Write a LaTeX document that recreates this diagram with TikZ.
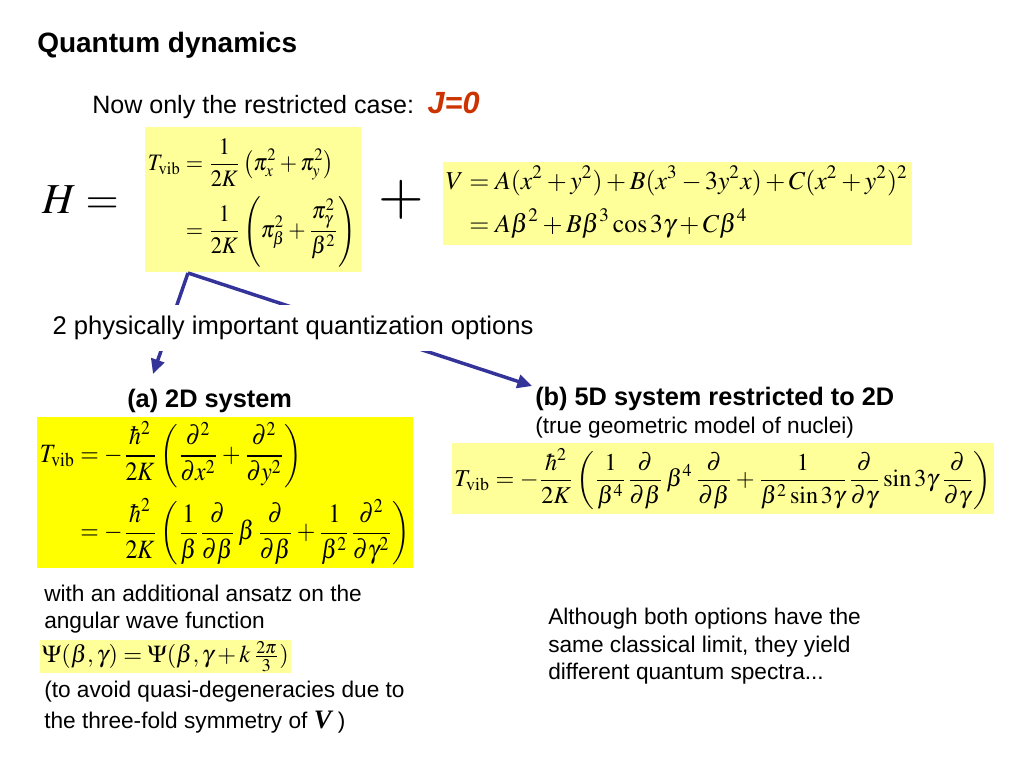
\documentclass[tikz,border=0pt]{standalone}
\usepackage{amsmath}
\usepackage{mathptmx}
\usepackage[no-math]{fontspec}
\setmainfont{Liberation Sans}
\newfontfamily\timesfont{Liberation Serif}
\usepackage{graphicx}
\usetikzlibrary{arrows.meta}
\definecolor{paleyellow}{RGB}{255,255,153}
\definecolor{brightyellow}{RGB}{255,255,0}
\definecolor{arrowblue}{RGB}{51,51,153}
\definecolor{jred}{RGB}{204,51,0}
\tikzset{
  eqbox/.style={inner sep=0pt, outer sep=0pt},
  eqtext/.style={inner sep=0pt, outer sep=0pt},
  bodytext/.style={anchor=base west, inner sep=0pt, font=\fontsize{17}{20}\selectfont},
  headtext/.style={anchor=base west, inner sep=0pt, font=\bfseries\fontsize{19}{23}\selectfont},
  flow/.style={draw=arrowblue, line width=2.6pt, -{Triangle[length=11pt,width=10pt]}},
}
\begin{document}
\begin{tikzpicture}[x=0.75pt,y=-0.75pt]
\useasboundingbox (0,0) rectangle (1024,768);
\fill[white] (0,0) rectangle (1024,768);

% title
\node[anchor=base west, inner sep=0pt, font=\bfseries\fontsize{21}{25}\selectfont] (title) at (37,52) {Quantum dynamics};
\node[anchor=base west, inner sep=0pt, font=\fontsize{18.8}{23}\selectfont] (case) at (92,113)
  {Now only the restricted case:\, {\color{jred}\bfseries\itshape\fontsize{23}{26}\selectfont J=0}};

% H = T + V
\node[anchor=base west, inner sep=0pt] (H) at (42,213) {\fontsize{32}{36}\selectfont$H=$};
\node[eqbox, fill=paleyellow, minimum width=162pt, minimum height=108.75pt] (tbox) at (253,199.5) {};
\node[eqtext] (teq) at (252,203)
  {\resizebox*{156pt}{96pt}{$\displaystyle\begin{aligned}
    T_{\mathrm{vib}} &= \frac{1}{2K}\left(\pi_x^2+\pi_y^2\right)\\
    &= \frac{1}{2K}\left(\pi_\beta^2+\frac{\pi_\gamma^2}{\beta^2}\right)
  \end{aligned}$}};
\node[inner sep=0pt] (plus) at (401,200) {\fontsize{44}{44}\selectfont$+$};
\node[eqbox, fill=paleyellow, minimum width=351.75pt, minimum height=62.25pt] (vbox) at (677.5,203.5) {};
\node[eqtext] (veq) at (677,204)
  {\resizebox{346.5pt}{!}{$\displaystyle\begin{aligned}
    V &= A(x^2+y^2)+B(x^3-3y^2x)+C(x^2+y^2)^2\\
    &= A\beta^2+B\beta^3\cos 3\gamma+C\beta^4
  \end{aligned}$}};

% connectors
\coordinate (split) at (188,273);
\coordinate (tipA) at (153,374);
\coordinate (tipB) at (532,386);
\draw[flow] (split) -- (tipA);
\draw[flow] (split) -- (tipB);
\node[fill=white, inner xsep=4pt, inner ysep=0pt, minimum height=34pt, font=\fontsize{19.2}{23}\selectfont] (opts) at (293,328)
  {2 physically important quantization options};

% (a)
\node[headtext] (la) at (127,407) {(a) 2D system};
\node[eqbox, fill=brightyellow, minimum width=282pt, minimum height=113.25pt] (abox) at (225,492.5) {};
\node[eqtext] (aeq) at (225,493)
  {\resizebox*{277.5pt}{108pt}{$\displaystyle\begin{aligned}
    T_{\mathrm{vib}} &= -\frac{\hbar^2}{2K}\left(\frac{\partial^2}{\partial x^2}+\frac{\partial^2}{\partial y^2}\right)\\
    &= -\frac{\hbar^2}{2K}\left(\frac{1}{\beta}\frac{\partial}{\partial\beta}\,\beta\,\frac{\partial}{\partial\beta}+\frac{1}{\beta^2}\frac{\partial^2}{\partial\gamma^2}\right)
  \end{aligned}$}};
\node[bodytext] (a1) at (44,601) {with an additional ansatz on the};
\node[bodytext] (a2) at (44,628) {angular wave function};
\node[eqbox, fill=paleyellow, minimum width=188.25pt, minimum height=24.75pt] (psibox) at (165.5,656.5) {};
\node[eqtext] (psieq) at (165.5,656.5)
  {\resizebox{185pt}{!}{$\Psi(\beta,\gamma)=\Psi(\beta,\gamma+k\,\tfrac{2\pi}{3})$}};
\node[bodytext] (a3) at (44,697) {(to avoid quasi-degeneracies due to};
\node[bodytext] (a4) at (44,728) {the three-fold symmetry of {\timesfont\bfseries\itshape\fontsize{20}{22}\selectfont V} )};

% (b)
\node[headtext] (lb) at (535,405) {(b) 5D system restricted to 2D};
\node[bodytext] (lb2) at (535,433) {(true geometric model of nuclei)};
\node[eqbox, fill=paleyellow, minimum width=406.5pt, minimum height=53.25pt] (bbox) at (723,478.5) {};
\node[eqtext] (beq) at (723,479)
  {\resizebox{402.75pt}{!}{$\displaystyle
    T_{\mathrm{vib}} = -\frac{\hbar^2}{2K}\left(\frac{1}{\beta^4}\frac{\partial}{\partial\beta}\,\beta^4\,\frac{\partial}{\partial\beta}+\frac{1}{\beta^2\sin 3\gamma}\frac{\partial}{\partial\gamma}\sin 3\gamma\,\frac{\partial}{\partial\gamma}\right)$}};
\node[bodytext] (b1) at (548,624) {Although both options have the};
\node[bodytext] (b2) at (548,652) {same classical limit, they yield};
\node[bodytext] (b3) at (548,679) {different quantum spectra...};
\end{tikzpicture}
\end{document}
